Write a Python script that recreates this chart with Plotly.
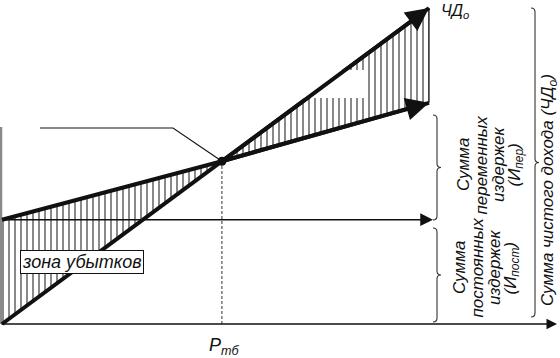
import plotly.graph_objects as go

# ---- data (conceptual break-even chart, volume units / money units) ----
volume = [0, 51.5, 100]          # sales volume: start, break-even point, end
revenue = [0, 51.5, 100]         # net income (ЧД_о)
total_costs = [33, 51.5, 70]     # fixed + variable costs
fixed_costs = 33                 # И_пост
breakeven_q = 51.5               # P_тб

# ---- layout helpers (pixel -> data) ----
W, H = 560, 358
X0PX, SX = 2.0, 4.27
Y0PX, SY = 324.0, 3.16
def fx(px):
    return (px - X0PX) / SX
def fy(py):
    return (Y0PX - py) / SY

INK = "#111111"
FONT = "Liberation Sans, Arial, sans-serif"

fig = go.Figure()

# hatched zone between revenue and cost lines
fig.add_trace(go.Scatter(x=volume, y=total_costs, mode="lines",
                         line=dict(width=0, color="rgba(0,0,0,0)"),
                         hoverinfo="skip", showlegend=False))
fig.add_trace(go.Scatter(x=volume, y=revenue, mode="lines", fill="tonexty",
                         fillcolor="white",
                         fillpattern=dict(shape="|", size=6, solidity=0.33,
                                          fgcolor=INK, bgcolor="white"),
                         line=dict(width=0, color="rgba(0,0,0,0)"),
                         hoverinfo="skip", showlegend=False))
# right edge of hatched zone
fig.add_trace(go.Scatter(x=[volume[-1], volume[-1]], y=[total_costs[-1], revenue[-1]],
                         mode="lines", line=dict(width=1.2, color=INK),
                         hoverinfo="skip", showlegend=False))

# left vertical (scan edge)
fig.add_trace(go.Scatter(x=[fx(1), fx(1)], y=[0, fy(127)], mode="lines",
                         line=dict(width=2.5, color="#8a8a8a"),
                         hoverinfo="skip", showlegend=False))

# break-even vertical dashed
fig.add_trace(go.Scatter(x=[breakeven_q, breakeven_q], y=[0, revenue[1]], mode="lines",
                         line=dict(width=1, color="#333", dash="3px,2px"),
                         hoverinfo="skip", showlegend=False))

# leader line to break-even point
fig.add_trace(go.Scatter(x=[fx(40), fx(173), breakeven_q], y=[fy(128), fy(128), revenue[1]],
                         mode="lines", line=dict(width=1.1, color=INK),
                         hoverinfo="skip", showlegend=False))

# main lines
fig.add_trace(go.Scatter(x=volume, y=total_costs, mode="lines",
                         line=dict(width=4, color=INK), hoverinfo="skip", showlegend=False))
fig.add_trace(go.Scatter(x=volume, y=revenue, mode="lines",
                         line=dict(width=4, color=INK), hoverinfo="skip", showlegend=False))

# break-even point
fig.add_trace(go.Scatter(x=[breakeven_q], y=[revenue[1]], mode="markers",
                         marker=dict(size=9, color=INK), hoverinfo="skip", showlegend=False))

shapes = []
# white patch (erased label area)
shapes.append(dict(type="rect", xref="x", yref="y", x0=fx(300), x1=fx(364),
                   y0=fy(98), y1=fy(70), fillcolor="white", line=dict(width=0),
                   layer="above"))

def brace_path(xpx, ytop, ybot, h=4):
    ym = (ytop + ybot) / 2
    pts = [
        f"M{fx(xpx - h)},{fy(ytop)}",
        f"Q{fx(xpx)},{fy(ytop)} {fx(xpx)},{fy(ytop + h)}",
        f"L{fx(xpx)},{fy(ym - h)}",
        f"Q{fx(xpx)},{fy(ym)} {fx(xpx + h)},{fy(ym)}",
        f"Q{fx(xpx)},{fy(ym)} {fx(xpx)},{fy(ym + h)}",
        f"L{fx(xpx)},{fy(ybot - h)}",
        f"Q{fx(xpx)},{fy(ybot)} {fx(xpx - h)},{fy(ybot)}",
    ]
    return " ".join(pts)

for xpx, yt, yb in [(437, 115, 220), (437, 228, 322), (535, 8, 317)]:
    shapes.append(dict(type="path", xref="x", yref="y", path=brace_path(xpx, yt, yb),
                       line=dict(color="#333", width=1.1), layer="above"))

ann = []
# arrowheads on main lines
ann.append(dict(x=volume[-1], y=revenue[-1], ax=volume[1], ay=revenue[1],
                xref="x", yref="y", axref="x", ayref="y", text="", showarrow=True,
                arrowhead=2, arrowwidth=4, arrowsize=1.15, arrowcolor=INK))
ann.append(dict(x=volume[-1], y=total_costs[-1], ax=volume[1], ay=total_costs[1],
                xref="x", yref="y", axref="x", ayref="y", text="", showarrow=True,
                arrowhead=2, arrowwidth=4, arrowsize=1.15, arrowcolor=INK))
# fixed costs arrow
ann.append(dict(x=fx(433), y=fixed_costs, ax=0, ay=fixed_costs,
                xref="x", yref="y", axref="x", ayref="y", text="", showarrow=True,
                arrowhead=2, arrowwidth=1.5, arrowsize=1.7, arrowcolor=INK))
# x axis arrow
ann.append(dict(x=fx(557), y=0, ax=fx(0), ay=0,
                xref="x", yref="y", axref="x", ayref="y", text="", showarrow=True,
                arrowhead=2, arrowwidth=1.5, arrowsize=1.4, arrowcolor=INK))

tf = dict(family=FONT, size=17, color=INK, style="italic")

ann.append(dict(x=fx(82), y=fy(262), xref="x", yref="y", text="зона убытков",
                showarrow=False, font=dict(family=FONT, size=18, color=INK, style="italic"),
                bgcolor="white", bordercolor=INK, borderwidth=1, borderpad=1))
ann.append(dict(x=fx(224), y=fy(346), xref="x", yref="y", text="P<sub>тб</sub>",
                showarrow=False, font=dict(family=FONT, size=18, color=INK, style="italic")))
ann.append(dict(x=fx(455), y=fy(11), xref="x", yref="y", text="ЧД<sub>о</sub>",
                showarrow=False, font=dict(family=FONT, size=16, color=INK, style="italic")))

lower_lines = ["Сумма", "постоянных", "издержек", "(И<sub>пост</sub>)"]
upper_lines = ["Сумма", "переменных", "издержек", "(И<sub>пер</sub>)"]
for i, t in enumerate(lower_lines):
    ann.append(dict(x=fx(459 + 17.5 * i), y=fy(268), xref="x", yref="y", text=t,
                    showarrow=False, textangle=-90, font=tf))
for i, t in enumerate(upper_lines):
    ann.append(dict(x=fx(463 + 17.5 * i), y=fy(165), xref="x", yref="y", text=t,
                    showarrow=False, textangle=-90, font=tf))
ann.append(dict(x=fx(549), y=fy(190), xref="x", yref="y",
                text="Сумма чистого дохода (ЧД<sub>о</sub>)",
                showarrow=False, textangle=-90, font=tf))

fig.update_layout(
    width=W, height=H, margin=dict(l=0, r=0, t=0, b=0),
    paper_bgcolor="white", plot_bgcolor="white",
    xaxis=dict(range=[fx(0), fx(W)], visible=False, fixedrange=True),
    yaxis=dict(range=[fy(H), fy(0)], visible=False, fixedrange=True),
    shapes=shapes, annotations=ann, showlegend=False,
)

fig.write_html("out.html", config={"displayModeBar": False},
               post_script="document.body.style.margin='0px';document.body.style.overflow='hidden';")
